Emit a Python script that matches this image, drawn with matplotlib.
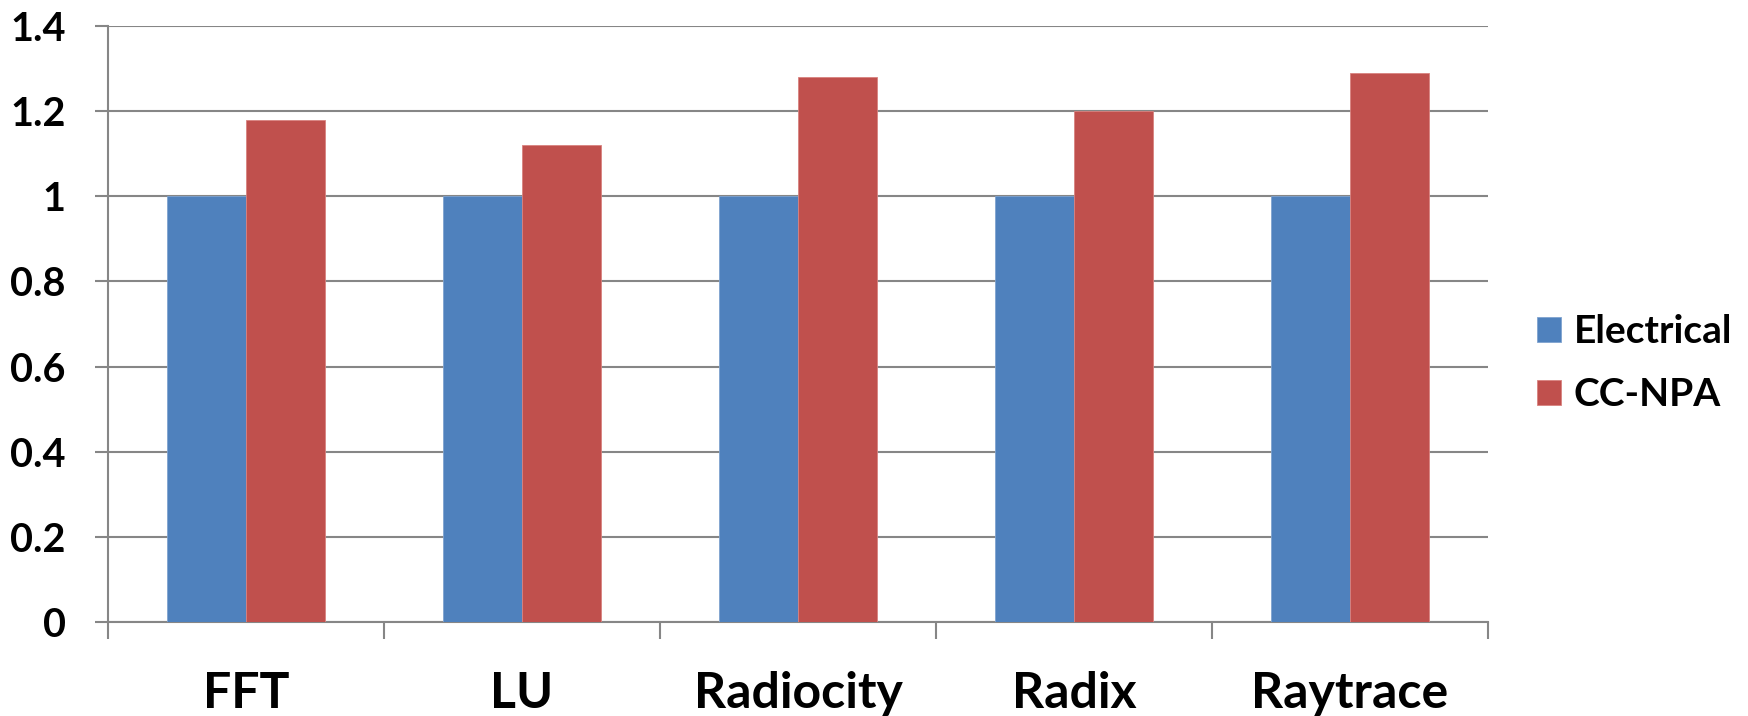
import numpy as np
import matplotlib.pyplot as plt

# benchmark results, normalised to the electrical network
benchmarks = ["FFT", "LU", "Radiocity", "Radix", "Raytrace"]
electrical = [1.0, 1.0, 1.0, 1.0, 1.0]
cc_npa = [1.18, 1.12, 1.28, 1.20, 1.29]
y_ticks = [0, 0.2, 0.4, 0.6, 0.8, 1, 1.2, 1.4]
y_labels = ["0", "0.2", "0.4", "0.6", "0.8", "1", "1.2", "1.4"]

BLUE = "#4F81BD"
RED = "#C0504D"
GRID = "#868686"

plt.rcParams["font.family"] = ["Lato", "DejaVu Sans"]
plt.rcParams["font.weight"] = "bold"

fig = plt.figure(figsize=(17.48, 7.16), dpi=100)
W, H = 1748, 716
ax = fig.add_axes([108 / W, (H - 622) / H, (1488 - 108) / W, (622 - 26) / H])

x = np.arange(len(benchmarks))
width = 1 / 3.5  # excel-style gap width of 150%
b1 = ax.bar(x - width / 2, electrical, width, color=BLUE, label="Electrical",
            edgecolor="#7FA3CF", linewidth=0.6, zorder=3)
b2 = ax.bar(x + width / 2, cc_npa, width, color=RED, label="CC-NPA",
            edgecolor="#D9827F", linewidth=0.6, zorder=3)

ax.set_xlim(-0.5, len(benchmarks) - 0.5)
ax.set_ylim(0, 1.4)

ax.set_yticks(y_ticks)
ax.set_yticklabels(y_labels, fontsize=28.5, fontweight="bold")
ax.yaxis.grid(True, color=GRID, linewidth=1.5, zorder=0)
ax.tick_params(axis="y", direction="out", length=9.5, width=1.5, color=GRID, pad=21)

# category labels in the middle, tick marks on the boundaries
ax.set_xticks(x)
ax.set_xticklabels(benchmarks, fontsize=36, fontweight="bold")
ax.tick_params(axis="x", which="major", length=0, pad=35)
ax.set_xticks(np.arange(len(benchmarks) + 1) - 0.5, minor=True)
ax.tick_params(axis="x", which="minor", direction="out", length=12.5, width=1.5, color=GRID)

for side in ["top", "right"]:
    ax.spines[side].set_visible(False)
for side in ["left", "bottom"]:
    ax.spines[side].set_color(GRID)
    ax.spines[side].set_linewidth(1.5)

fig.legend(handles=[b1, b2], loc="center left", bbox_to_anchor=(1502 / W, 1 - 363 / H),
           frameon=False, prop={"size": 28, "weight": "bold"},
           handlelength=0.62, handleheight=0.62, handletextpad=0.33, labelspacing=0.72)

fig.savefig("out.png", dpi=100)
